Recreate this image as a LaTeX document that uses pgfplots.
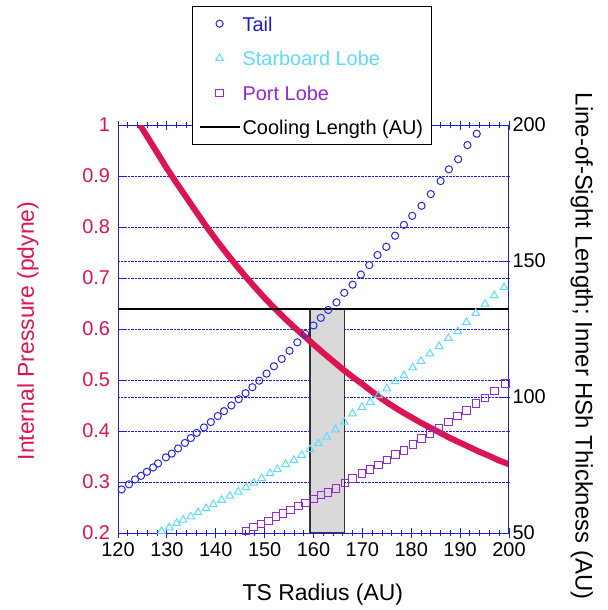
\documentclass[border=0pt]{standalone}
\usepackage{pgfplots}
\pgfplotsset{compat=1.18}
\usepackage{fontspec}
\setmainfont{Liberation Sans}
\definecolor{pcol}{RGB}{220,20,80}
\definecolor{tailc}{RGB}{40,40,220}
\definecolor{tailtxt}{RGB}{30,30,200}
\definecolor{starc}{RGB}{90,220,255}
\definecolor{portc}{RGB}{150,40,210}
\definecolor{axc}{RGB}{30,30,230}
\definecolor{rectc}{RGB}{217,217,217}
\pgfplotsset{
  markimg/.style={legend image code/.code={\draw[mark repeat=2,mark phase=2,##1] plot coordinates {(0bp,0bp) (20bp,0bp) (40bp,0bp)};}},
  lineimg/.style={legend image code/.code={\draw[##1] (0bp,0bp) -- (40bp,0bp);}},
}

\pgfplotstableread{
r p
124.5 1.000
126 0.977
128 0.946
130 0.915
132 0.886
134 0.858
136 0.830
138 0.802
140 0.776
142 0.751
144 0.727
146 0.704
148 0.682
150 0.661
152 0.641
154 0.622
156 0.604
158 0.587
160 0.570
162 0.553
164 0.537
166 0.521
168 0.506
170 0.492
172 0.477
174 0.463
176 0.450
178 0.438
180 0.427
182 0.416
184 0.406
186 0.396
188 0.386
190 0.377
192 0.368
194 0.359
196 0.351
198 0.342
200 0.335
}\pressure

\pgfplotstableread{
r L
120.75 66.0
122.25 67.9
123.5 69.7
124.7 71.0
125.9 72.5
127.2 74.1
128.2 75.6
129.8 77.8
131.0 79.2
132.3 81.1
133.7 83.1
134.9 84.9
136.1 86.8
137.6 88.8
139.0 90.8
140.4 93.0
141.7 94.8
143.2 96.9
144.7 99.2
146.1 101.4
147.5 103.6
148.9 106.0
150.4 108.6
151.9 111.3
153.5 114.0
155.1 117.0
156.7 120.1
158.3 123.2
160.0 126.3
161.5 129.1
163.0 132.0
164.7 134.8
166.3 138.3
168.0 141.3
169.7 145.0
171.4 148.5
173.1 152.2
174.9 155.2
176.7 159.3
178.5 163.3
180.2 166.6
182.1 170.3
184.0 174.6
186.0 179.4
187.7 183.7
189.6 187.4
191.5 192.6
193.4 196.8
}\tail

\pgfplotstableread{
r L
127.4 49.3
128.9 50.6
130.5 52.0
132.0 53.6
133.3 54.8
134.9 56.0
136.4 57.6
138.0 59.1
139.5 60.5
141.2 62.1
142.9 63.6
144.6 65.1
146.2 66.8
147.8 68.4
149.4 70.1
151.1 71.9
152.6 73.4
154.3 75.2
156.0 76.8
157.6 78.6
159.3 80.7
161.0 82.9
162.7 85.3
164.5 88.0
166.3 90.8
168.0 93.9
169.9 96.3
171.6 98.1
173.3 100.6
175.0 103.1
176.7 105.7
178.5 107.9
180.3 110.8
182.0 113.2
183.8 115.9
185.7 118.6
187.6 121.6
189.5 124.1
191.3 127.5
193.2 130.8
195.1 134.2
197.0 137.3
199.0 140.3
}\starboard

\pgfplotstableread{
r L
144.6 49.5
146.2 50.8
147.7 52.1
149.2 53.3
150.8 54.5
152.3 56.0
153.8 57.2
155.3 58.4
156.9 59.9
158.4 61.1
160.0 62.4
161.5 63.9
163.0 64.9
164.6 66.4
166.4 68.4
168.0 70.1
169.9 71.9
171.6 73.4
173.3 74.9
175.0 76.8
176.8 78.9
178.5 80.4
180.3 82.5
182.1 84.7
183.8 86.6
185.7 88.4
187.6 90.8
189.5 93.0
191.3 95.1
193.2 97.6
195.1 99.6
197.0 102.1
199.3 104.9
}\port

\begin{document}
\begin{tikzpicture}
\path[use as bounding box] (0,0) rectangle (608bp,610bp);
\begin{axis}[
  at={(118bp,77bp)}, anchor=south west,
  scale only axis, width=391bp, height=408bp,
  xmin=120, xmax=200, ymin=0.2, ymax=1,
  xtick={120,130,140,150,160,170,180,190,200},
  xticklabels={120,130,140,150,160,170,180,190,200},
  minor x tick num=4,
  ytick={0.2,0.3,0.4,0.5,0.6,0.7,0.8,0.9,1},
  yticklabels={0.2,0.3,0.4,0.5,0.6,0.7,0.8,0.9,1},
  ytick pos=left,
  tick align=center, major tick length=9bp, minor tick length=6bp,
  y tick style={xshift=4.5bp},
  axis line style={axc, line width=1bp},
  every tick/.style={axc, line width=0.8bp},
  ymajorgrids, grid style={axc, densely dotted, line width=0.9bp},
  extra y ticks={0.46667,0.73333}, extra y tick labels={},
  extra y tick style={grid=major, tick style={draw=none}},
  tick label style={font=\fontsize{20}{24}\selectfont},
  yticklabel style={text=pcol},
  xticklabel style={yshift=-2bp},
  ylabel={Internal Pressure (pdyne)},
  every axis y label/.style={at={(rel axis cs:-0.23,0.495)}, rotate=90, anchor=center, font=\fontsize{23}{27}\selectfont, text=pcol},
  xlabel={TS Radius (AU)},
  every axis x label/.style={at={(rel axis cs:0.524,-0.152)}, anchor=center, font=\fontsize{23}{27}\selectfont},
]
\addplot[fill=rectc, draw=black!80, line width=1.5bp] coordinates {(159.3,0.2) (159.3,0.64) (166.3,0.64) (166.3,0.2)} --cycle;
\addplot[pcol, line width=6bp] table[x=r, y=p] {\pressure};
\end{axis}
\begin{axis}[
  at={(118bp,77bp)}, anchor=south west,
  scale only axis, width=391bp, height=408bp,
  xmin=120, xmax=200, ymin=50, ymax=200,
  hide x axis, axis y line*=right,
  ytick={50,100,150,200}, yticklabels={50,100,150,200},
  tick align=inside, major tick length=9bp,
  axis line style={axc, line width=1bp},
  every tick/.style={axc, line width=0.8bp},
  tick label style={font=\fontsize{20}{24}\selectfont},
  ylabel={Line-of-Sight Length; Inner HSh Thickness (AU)},
  every axis y label/.style={at={(rel axis cs:1.186,0.458)}, rotate=-90, anchor=center, font=\fontsize{24}{28}\selectfont},
  legend style={at={(rel axis cs:0.1893,1.2917)}, anchor=north west, draw=black, line width=1.2bp, fill=white,
    font=\fontsize{20}{24}\selectfont, inner xsep=6bp, inner ysep=6bp, row sep=12.3bp,
    /tikz/every odd column/.append style={column sep=0bp}},
  legend cell align=left,
  markimg,
]
\addplot[only marks, mark=o, mark size=3.6bp, tailc, line width=1bp] table[x=r, y=L] {\tail};
\addlegendentry{\textcolor{tailtxt}{\strut Tail}}
\addplot[only marks, mark=triangle, mark size=4.4bp, starc, line width=1bp] table[x=r, y=L] {\starboard};
\addlegendentry{\textcolor{starc}{\strut Starboard Lobe}}
\addplot[only marks, mark=square, mark size=3.7bp, portc, line width=1bp] table[x=r, y=L] {\port};
\addlegendentry{\textcolor{portc}{\strut Port Lobe}}
\addplot[black, line width=2bp, lineimg] coordinates {(120,132.5) (200,132.5)};
\addlegendentry{\strut Cooling Length (AU)}
\end{axis}
\end{tikzpicture}
\end{document}
